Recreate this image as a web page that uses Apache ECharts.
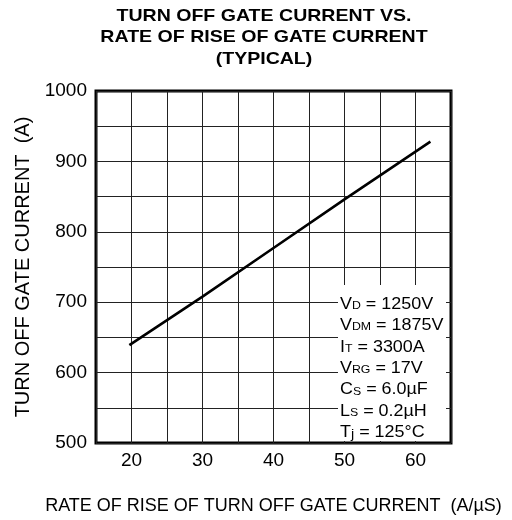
<!DOCTYPE html>
<html>
<head>
<meta charset="utf-8">
<script src="https://cdn.jsdelivr.net/npm/echarts@6/dist/echarts.min.js"></script>
<style>
html,body{margin:0;padding:0;background:#fff;}
#chart{width:512px;height:520px;}
</style>
</head>
<body>
<div id="chart"></div>
<script>
// Data
const riseRate = [19.7, 30, 40, 50, 62.1];          // A/µs
const gateCurrent = [639, 708, 777, 846, 928];      // A
const xTickLabels = [20, 30, 40, 50, 60];
const yTickLabels = [500, 600, 700, 800, 900, 1000];
const titleLines = ['TURN OFF GATE CURRENT VS.', 'RATE OF RISE OF GATE CURRENT', '(TYPICAL)'];
const conditions = [
  ['V', 'D', ' = 1250V'],
  ['V', 'DM', ' = 1875V'],
  ['I', 'T', ' = 3300A'],
  ['V', 'RG', ' = 17V'],
  ['C', 'S', ' = 6.0\u00b5F'],
  ['L', 'S', ' = 0.2\u00b5H'],
  ['T', 'j', ' = 125\u00b0C']
];

const FONT = '"Liberation Sans", Arial, sans-serif';
const chart = echarts.init(document.getElementById('chart'), null, {renderer: 'canvas'});

const seriesData = riseRate.map((x, i) => [x, gateCurrent[i]]);
const condText = conditions.map(c => '{n|' + c[0] + '}{' + (c[1] === 'j' ? 'j' : 's') + '|' + c[1] + '}{n|' + c[2] + '}').join('\n');

chart.setOption({
  animation: false,
  backgroundColor: '#fff',
  grid: {
    left: 96, top: 91, right: 61, bottom: 76,
    show: true, borderColor: '#000', borderWidth: 3, backgroundColor: 'transparent'
  },
  xAxis: {
    type: 'value', min: 15, max: 65, interval: 5,
    name: 'RATE OF RISE OF TURN OFF GATE CURRENT  (A/\u00b5S)',
    nameLocation: 'middle', nameGap: 54,
    nameTextStyle: {fontFamily: FONT, fontSize: 18, color: '#000'},
    axisLine: {show: false}, axisTick: {show: false},
    axisLabel: {
      margin: 8, fontFamily: FONT, fontSize: 19, color: '#000',
      formatter: v => xTickLabels.indexOf(v) >= 0 ? String(v) : ''
    },
    splitLine: {show: true, lineStyle: {color: '#222', width: 1}}
  },
  yAxis: {
    type: 'value', min: 500, max: 1000, interval: 50,
    name: 'TURN OFF GATE CURRENT  (A)',
    nameLocation: 'middle', nameGap: 63, nameRotate: 90,
    nameTextStyle: {fontFamily: FONT, fontSize: 20, color: '#000'},
    axisLine: {show: false}, axisTick: {show: false},
    axisLabel: {
      margin: 9, fontFamily: FONT, fontSize: 19, color: '#000',
      formatter: v => yTickLabels.indexOf(v) >= 0 ? String(v) : ''
    },
    splitLine: {show: true, lineStyle: {color: '#222', width: 1}}
  },
  series: [{
    type: 'line', data: seriesData, showSymbol: false,
    lineStyle: {color: '#000', width: 2.6}, z: 5
  }],
  graphic: [
    {
      type: 'text', x: 264, y: 5.5, scaleX: 1.15, z: 100,
      style: {
        text: titleLines.join('\n'), fontFamily: FONT, fontWeight: 'bold', fontSize: 17,
        lineHeight: 21.5, fill: '#000', textAlign: 'center', textVerticalAlign: 'top'
      }
    },
    {
      type: 'rect', x: 338, y: 285, z: 100,
      shape: {x: 0, y: 0, width: 108, height: 156}, style: {fill: '#fff'}
    },
    {
      type: 'text', x: 340, y: 291, scaleX: 1.12, z: 101,
      style: {
        text: condText, fontFamily: FONT, fill: '#000',
        rich: {
          n: {fontFamily: FONT, fontSize: 16, color: '#000', lineHeight: 21.4, verticalAlign: 'bottom'},
          s: {fontFamily: FONT, fontSize: 11, color: '#000', lineHeight: 21.4, verticalAlign: 'bottom', padding: [0, 0, 1, 0]},
          j: {fontFamily: FONT, fontSize: 13, color: '#000', lineHeight: 21.4, verticalAlign: 'bottom', padding: [0, 0, 0, 0]}
        }
      }
    }
  ]
});
</script>
</body>
</html>
